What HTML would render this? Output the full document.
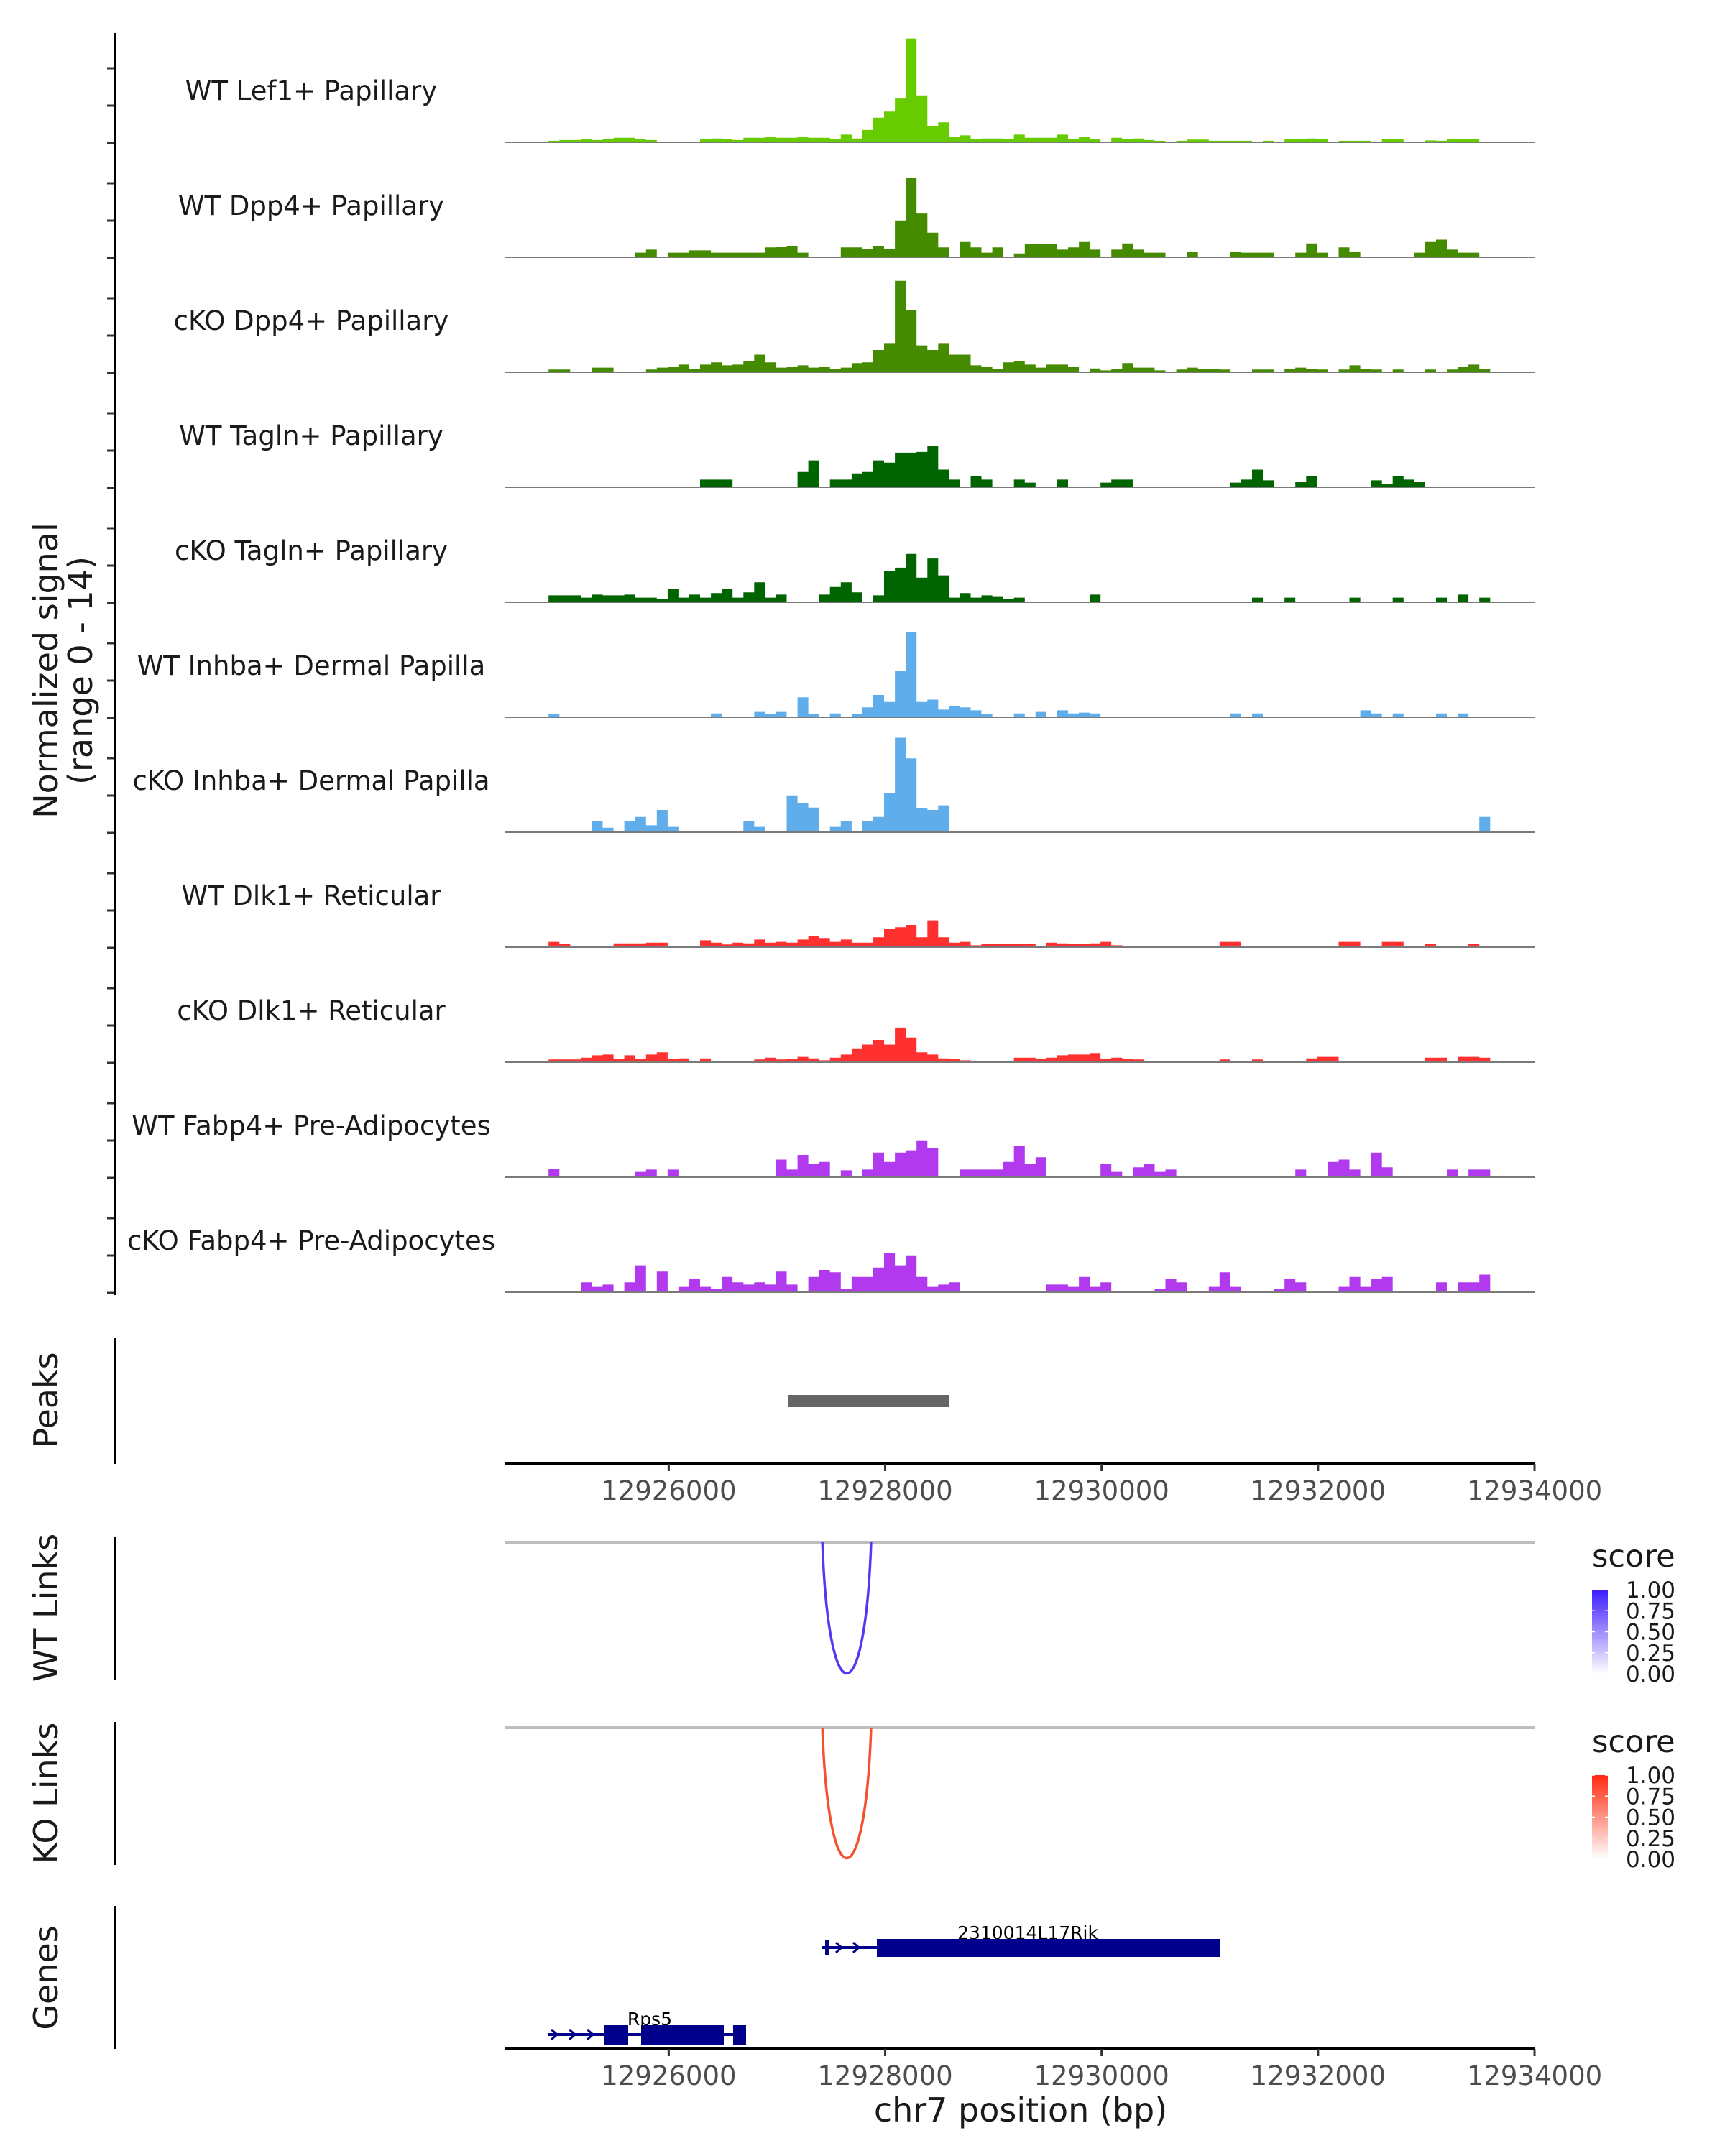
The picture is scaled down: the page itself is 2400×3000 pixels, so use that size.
<!DOCTYPE html>
<html><head><meta charset="utf-8"><style>
html,body{margin:0;padding:0;background:#fff;}
svg{display:block;font-family:"DejaVu Sans","Liberation Sans",sans-serif;}
</style></head>
<body>
<svg id="chart" width="2400" height="3000" viewBox="0 0 2400 3000" xmlns="http://www.w3.org/2000/svg">
<rect width="2400" height="3000" fill="#fff"/>
<g id="tracks"></g>
<g id="axes"></g>
</svg>
<script>
// ---------- data ----------
const trackNames = ["WT Lef1+ Papillary","WT Dpp4+ Papillary","cKO Dpp4+ Papillary","WT Tagln+ Papillary","cKO Tagln+ Papillary","WT Inhba+ Dermal Papilla","cKO Inhba+ Dermal Papilla","WT Dlk1+ Reticular","cKO Dlk1+ Reticular","WT Fabp4+ Pre-Adipocytes","cKO Fabp4+ Pre-Adipocytes"];
const trackColors = ["#66cc00","#458b00","#458b00","#006400","#006400","#60adec","#60adec","#ff3030","#ff3030","#b23aee","#b23aee"];
const binStart = 12924490;
const binSize = 100;
const wtLef1 = [0,0,0,0,.1,.2,.2,.3,.2,.3, .5,.5,.3,.2,0,0,0,0,.3,.4, .3,.2,.5,.5,.6,.5,.5,.6,.5,.5, .3,.9,.4,1.5,3.1,3.9,5.6,13.4,6,2, 2.5,.6,.8,.3,.4,.4,.3,.9,.5,.5, .5,.9,.3,.6,.3,0,.5,.3,.4,.2, .1,0,.1,.25,.25,.1,.1,.1,.1,0, .1,0,.3,.3,.4,.3,0,.1,.1,.1, 0,.3,.3,0,0,.15,.1,.35,.35,.3,0];
const wtDpp4 = [0,0,0,0,0,0,0,0,0,0, 0,0,.5,.9,0,.5,.5,.8,.8,.5, .5,.5,.5,.5,1.2,1.3,1.4,.5,0,0, 0,1.2,1.2,1,1.4,1,4.7,10.2,5.6,3.1, 1.2,0,1.9,1.2,.5,1.2,0,.4,1.6,1.6, 1.6,.9,1.2,1.9,.9,0,.9,1.7,.9,.5, .5,0,0,.6,0,0,0,.6,.5,.5, .5,0,0,.5,1.7,.5,0,1.2,.6,0, 0,0,0,0,.5,1.9,2.2,.9,.5,.5,0];
const ckoDpp4 = [0,0,0,0,.25,.25,0,0,.5,.5, 0,0,0,.25,.5,.6,.9,.3,.9,1.2, .8,.9,1.4,2.2,1.2,.5,.6,.8,.5,.6, .3,.5,1.1,1.2,2.8,3.7,11.8,8,3.4,2.8, 3.7,2.2,2.2,.8,.6,.3,1.2,1.4,.9,.5, .9,.9,.6,0,.4,.15,.3,1.1,.5,.5, .15,0,.25,.5,.3,.3,.25,0,0,.25, .25,0,.3,.5,.3,.25,0,.25,.8,.3, .25,0,.25,0,0,.25,0,.25,.6,.9,.3];
const wtTagln = [0,0,0,0,0,0,0,0,0,0, 0,0,0,0,0,0,0,0,.9,.9, .9,0,0,0,0,0,0,1.9,3.4,0, .9,.9,1.7,1.9,3.4,3.1,4.4,4.4,4.5,5.3, 2.2,.9,0,1.4,.9,0,0,.9,.5,0, 0,.9,0,0,0,.5,.9,.9,0,0, 0,0,0,0,0,0,0,.5,.9,2.2, .8,0,0,.6,1.4,0,0,0,0,0, .8,.3,1.4,.9,.6,0,0,0,0,0,0];
const ckoTagln = [0,0,0,0,.8,.8,.8,.5,.9,.8, .8,.9,.5,.5,.3,1.6,.5,.9,.5,1.1, 1.6,.5,1.2,2.5,.5,.9,0,0,0,.9, 1.9,2.5,1.2,0,.8,4,4.4,6.2,3.1,5.6, 3.4,.5,1.1,.5,.8,.6,.3,.5,0,0, 0,0,0,0,.9,0,0,0,0,0, 0,0,0,0,0,0,0,0,0,.5, 0,0,.5,0,0,0,0,0,.5,0, 0,0,.5,0,0,0,.5,0,.9,0,.5];
const wtInhba = [0,0,0,0,.3,0,0,0,0,0, 0,0,0,0,0,0,0,0,0,.4, 0,0,0,.6,.3,.6,0,2.5,.3,0, .4,0,.3,1.2,2.8,1.9,5.9,11,1.9,2.2, .9,1.4,1.2,.8,.3,0,0,.4,0,.6, 0,.8,.4,.5,.4,0,0,0,0,0, 0,0,0,0,0,0,0,.4,0,.4, 0,0,0,0,0,0,0,0,0,.8, .4,0,.4,0,0,0,.4,0,.4,0,0];
const ckoInhba = [0,0,0,0,0,0,0,0,1.4,.5, 0,1.4,1.9,.8,2.8,.6,0,0,0,0, 0,0,1.4,.6,0,0,4.7,3.7,3.1,0, .6,1.4,0,1.4,1.9,5,12.2,9.5,3,2.8, 3.4,0,0,0,0,0,0,0,0,0, 0,0,0,0,0,0,0,0,0,0, 0,0,0,0,0,0,0,0,0,0, 0,0,0,0,0,0,0,0,0,0, 0,0,0,0,0,0,0,0,0,0,1.9];
const wtDlk1 = [0,0,0,0,.6,.3,0,0,0,0, .4,.4,.4,.5,.5,0,0,0,.8,.5, .25,.5,.4,.9,.5,.6,.5,.9,1.4,1.1, .6,.9,.5,.5,1.2,2.3,2.5,2.8,1.2,3.4, 1.2,.5,.6,.15,.3,.3,.3,.3,.3,0, .5,.4,.3,.3,.4,.6,.15,0,0,0, 0,0,0,0,0,0,.6,.6,0,0, 0,0,0,0,0,0,0,.6,.6,0, 0,.6,.6,0,0,.3,0,0,0,.3,0];
const ckoDlk1 = [0,0,0,0,.25,.25,.25,.5,.8,.9, .3,.8,.3,.9,1.2,.3,.4,0,.4,0, 0,0,0,.25,.5,.25,.3,.6,.4,.15, .5,.9,1.7,2.2,2.8,2.2,4.4,3.1,1.2,.9, .4,.3,.15,0,0,0,0,.5,.5,.3, .5,.8,.9,.9,1.1,.3,.5,.3,.25,0, 0,0,0,0,0,0,.25,0,0,.25, 0,0,0,0,.4,.6,.6,0,0,0, 0,0,0,0,0,.5,.5,0,.6,.6,.5];
const wtFabp4 = [0,0,0,0,1,0,0,0,0,0, 0,0,.6,.9,0,.9,0,0,0,0, 0,0,0,0,0,2.2,.9,2.8,1.6,1.9, 0,.8,0,.9,3.1,1.9,3.1,3.4,4.7,3.7, 0,0,.9,.9,.9,.9,1.9,4,1.6,2.5, 0,0,0,0,0,1.6,.6,0,1.2,1.6, .6,.9,0,0,0,0,0,0,0,0, 0,0,0,.9,0,0,1.9,2.2,.9,0, 3.1,1.2,0,0,0,0,0,.9,0,.9,.9];
const ckoFabp4 = [0,0,0,0,0,0,0,1.2,.6,.9, 0,1.2,3.4,0,2.6,0,.6,1.6,.6,.3, 1.9,1.2,.9,1.2,.9,2.6,.9,0,1.9,2.8, 2.5,.3,1.9,1.9,3.1,5,3.4,4.7,1.9,.6, .9,1.2,0,0,0,0,0,0,0,0, .9,.9,.6,1.9,.6,1.2,0,0,0,0, .3,1.6,1.2,0,0,.6,2.5,.6,0,0, 0,.3,1.6,1.2,0,0,0,.6,1.9,.6, 1.6,1.9,0,0,0,0,1.2,0,1.2,1.2,2.2];
const trackValues = [wtLef1,wtDpp4,ckoDpp4,wtTagln,ckoTagln,wtInhba,ckoInhba,wtDlk1,ckoDlk1,wtFabp4,ckoFabp4];
const xTicks = [12926000,12928000,12930000,12932000,12934000];
const peakRegions = [[12927100,12928590]];
const linkStart = [12927420];
const linkEnd = [12927870];
const legendTicks = ["1.00","0.75","0.50","0.25","0.00"];

// ---------- scales ----------
const X0 = 12924490, X1 = 12934000, PX0 = 703, PX1 = 2135;
function xs(bp){ return PX0 + (bp - X0) * (PX1 - PX0) / (X1 - X0); }
function baseY(k){ return 197 + 160 * k; }
const VSCALE = 10.7;
function ys(k, v){ return baseY(k) - v * VSCALE; }

const NS = "http://www.w3.org/2000/svg";
function mk(tag, attrs, parent){
  const e = document.createElementNS(NS, tag);
  for (const a in attrs) e.setAttribute(a, attrs[a]);
  parent.appendChild(e);
  return e;
}
const svg = document.getElementById("chart");
const tg = document.getElementById("tracks");
const ax = document.getElementById("axes");

trackValues.forEach((vals, k) => {
  const g = mk("g", {}, tg);
  
  
  let d = "M" + xs(binStart).toFixed(1) + "," + baseY(k);
  vals.forEach((v, i) => {
    const xa = xs(binStart + i * binSize), xb = xs(binStart + (i + 1) * binSize);
    const y = ys(k, v).toFixed(1);
    d += " L" + xa.toFixed(1) + "," + y + " L" + xb.toFixed(1) + "," + y;
  });
  d += " L" + xs(binStart + vals.length * binSize).toFixed(1) + "," + baseY(k) + " Z";
  const area = mk("path", {d: d, fill: trackColors[k], stroke: "none"}, g);
  
  
  const bl = mk("line", {x1: PX0, x2: PX1, y1: baseY(k) + 1, y2: baseY(k) + 1, stroke: "#7a7a7a", "stroke-width": 2}, g);
  
  
  const t = mk("text", {x: 433, y: baseY(k) - 58, "text-anchor": "middle", "font-size": 37, fill: "#1a1a1a"}, g);
  t.textContent = trackNames[k];
  
  
  [2, -50, -102].forEach(off => {
    const tk = mk("line", {x1: 149, x2: 160, y1: baseY(k) + off, y2: baseY(k) + off, stroke: "#333", "stroke-width": 3}, ax);
    
    
  });
});

let e = mk("line", {x1: 160, x2: 160, y1: 46, y2: 1802, stroke: "#000", "stroke-width": 3}, ax);



peakRegions.forEach(p => {
  const r = mk("rect", {x: xs(p[0]), y: 1941, width: xs(p[1]) - xs(p[0]), height: 17, fill: "#666"}, svg);
  
  
});

function xAxis(yLine, yLab, nameTag){
  const l = mk("line", {x1: PX0, x2: PX1 + 1, y1: yLine, y2: yLine, stroke: "#000", "stroke-width": 4}, ax);
  
  
  xTicks.forEach(t => {
    const tk = mk("line", {x1: xs(t), x2: xs(t), y1: yLine, y2: yLine + 10, stroke: "#333", "stroke-width": 3}, ax);
    
    
    const lb = mk("text", {x: xs(t), y: yLab, "text-anchor": "middle", "font-size": 37, fill: "#4d4d4d"}, ax);
    lb.textContent = String(t);
    
    
  });
}
xAxis(2037, 2087, 'peaks-x-axis');
xAxis(2851, 2901, 'genes-x-axis');

function links(grayY, bottomY, color, nameTag){
  const gl = mk("line", {x1: PX0, x2: PX1, y1: grayY, y2: grayY, stroke: "#bebebe", "stroke-width": 4}, svg);
  
  
  linkStart.forEach((s, i) => {
    const a = xs(s), b = xs(linkEnd[i]), m = (a + b) / 2;
    const depth = bottomY - grayY;
    const c = mk("path", {d: `M${a},${grayY} C${a + (m - a) * 0.25},${grayY + depth * 1.33} ${b - (b - m) * 0.25},${grayY + depth * 1.33} ${b},${grayY}`, fill: "none", stroke: color, "stroke-width": 3.5}, svg);
    
    
  });
}
links(2146, 2329, "#5a36f2", 'wt-link');
links(2404, 2586, "#f5502f", 'ko-link');

function legend(topY, c1, id, nameTag){
  const defs = mk("defs", {}, svg);
  const gr = mk("linearGradient", {id: id, x1: 0, y1: 0, x2: 0, y2: 1}, defs);
  mk("stop", {offset: 0, "stop-color": c1}, gr);
  mk("stop", {offset: 1, "stop-color": "#ffffff"}, gr);
  const s = mk("text", {x: 2215, y: topY, "font-size": 43, fill: "#1a1a1a"}, svg);
  s.textContent = "score";
  
  
  const bar = mk("rect", {x: 2215, y: topY + 32, width: 22, height: 117, fill: `url(#${id})`}, svg);
  
  
  legendTicks.forEach((t, i) => {
    const yy = topY + 32 + i * 117 / 4;
    mk("line", {x1: 2215, x2: 2219, y1: yy, y2: yy, stroke: "#fff", "stroke-width": 1.5}, svg);
    mk("line", {x1: 2233, x2: 2237, y1: yy, y2: yy, stroke: "#fff", "stroke-width": 1.5}, svg);
    const lb = mk("text", {x: 2262, y: yy + 11, "font-size": 31, fill: "#1a1a1a"}, svg);
    lb.textContent = t;
    
    
  });
}
legend(2180, "#3c1cff", "gwt", 'wt-score-legend');
legend(2438, "#ff2a10", "gko", 'ko-score-legend');
</script>

<svg style="position:absolute;left:0;top:0" width="2400" height="3000" viewBox="0 0 2400 3000" xmlns="http://www.w3.org/2000/svg">
  <g font-family="DejaVu Sans, Liberation Sans, sans-serif" fill="#1a1a1a">
    <text transform="translate(80,933) rotate(-90)" text-anchor="middle" font-size="46">Normalized signal</text>
    <text transform="translate(128,933) rotate(-90)" text-anchor="middle" font-size="46">(range 0 - 14)</text>
    <text transform="translate(80,1948) rotate(-90)" text-anchor="middle" font-size="46">Peaks</text>
    <text transform="translate(80,2237) rotate(-90)" text-anchor="middle" font-size="46">WT Links</text>
    <text transform="translate(80,2495) rotate(-90)" text-anchor="middle" font-size="46">KO Links</text>
    <text transform="translate(80,2752) rotate(-90)" text-anchor="middle" font-size="46">Genes</text>
    <text x="1420" y="2952" text-anchor="middle" font-size="46">chr7 position (bp)</text>
  </g>
  <line x1="160" x2="160" y1="1862" y2="2037" stroke="#000" stroke-width="3"/>
  <line x1="160" x2="160" y1="2138" y2="2337" stroke="#000" stroke-width="3"/>
  <line x1="160" x2="160" y1="2396" y2="2595" stroke="#000" stroke-width="3"/>
  <line x1="160" x2="160" y1="2652" y2="2851" stroke="#000" stroke-width="3"/>
  <g fill="#00008b" stroke="#00008b">
    <line x1="1143" x2="1220" y1="2710" y2="2710" stroke-width="4"/>
    <rect x="1148" y="2700" width="5" height="20" stroke="none"/>
    <polyline points="1163,2703 1171,2710 1163,2717" fill="none" stroke-width="3"/>
    <polyline points="1187,2703 1195,2710 1187,2717" fill="none" stroke-width="3"/>
    <rect x="1220" y="2698" width="478" height="25" stroke="none"/>
  </g>
  <text x="1430" y="2698" text-anchor="middle" font-size="25" font-family="DejaVu Sans, Liberation Sans, sans-serif" fill="#000">2310014L17Rik</text>
  <g fill="#00008b" stroke="#00008b">
    <line x1="762" x2="1038" y1="2831" y2="2831" stroke-width="4"/>
    <polyline points="767,2824 775,2831 767,2838" fill="none" stroke-width="3"/>
    <polyline points="792,2824 800,2831 792,2838" fill="none" stroke-width="3"/>
    <polyline points="817,2824 825,2831 817,2838" fill="none" stroke-width="3"/>
    <rect x="840" y="2818" width="34" height="27" stroke="none"/>
    <rect x="892" y="2818" width="115" height="27" stroke="none"/>
    <rect x="1020" y="2818" width="18" height="27" stroke="none"/>
  </g>
  <text x="904" y="2818" text-anchor="middle" font-size="25" font-family="DejaVu Sans, Liberation Sans, sans-serif" fill="#000">Rps5</text>
</svg>
</body></html>
